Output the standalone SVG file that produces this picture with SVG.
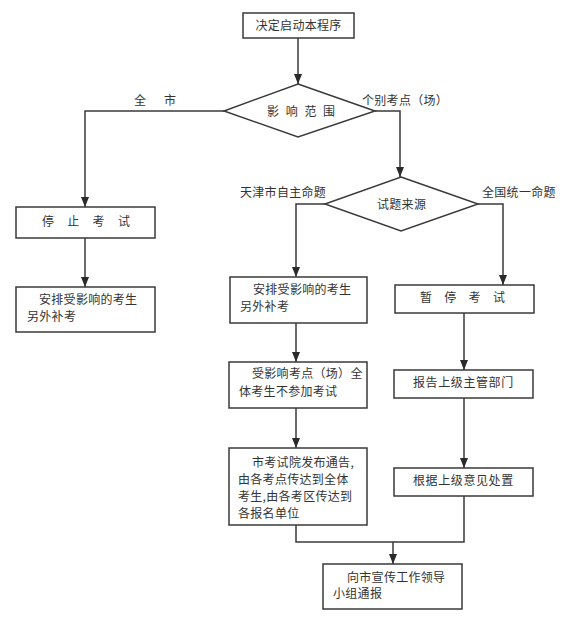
<svg xmlns="http://www.w3.org/2000/svg" width="574" height="625" viewBox="0 0 574 625">
<defs>
<marker id="arr" markerUnits="userSpaceOnUse" markerWidth="10" markerHeight="8" refX="10" refY="4" orient="auto"><path d="M0,0 L10,4 L0,8 z" fill="#2a2a2a"/></marker>
<style>
.b{fill:#fff;stroke:#3a3a3a;stroke-width:1.5}
.c{fill:none;stroke:#3a3a3a;stroke-width:1.5}
.a{marker-end:url(#arr)}
text{font-family:"Noto Sans CJK SC","Noto Sans CJK TC",sans-serif;font-size:12px;fill:#333;letter-spacing:0.3px}
</style>
</defs>
<rect width="574" height="625" fill="#fff"/>
<g id="connectors">
<path class="c a" d="M298,38 V84"/>
<path class="c a" d="M224,111 H85 V207"/>
<path class="c a" d="M375,111 H400 V177"/>
<path class="c a" d="M85,238 V287"/>
<path class="c a" d="M325,204 H296 V277"/>
<path class="c a" d="M478,204 H503 V285"/>
<path class="c a" d="M296,323 V362"/>
<path class="c a" d="M464,313 V370"/>
<path class="c a" d="M296,408 V448"/>
<path class="c a" d="M464,398 V468"/>
<path class="c" d="M296,525 V542 H464 V496"/>
<path class="c a" d="M393,542 V564"/>
</g>
<g id="labels">
<text x="134" y="105">全</text>
<text x="164" y="105">市</text>
<text x="362" y="105">个别考点（场）</text>
<text x="240" y="197">天津市自主命题</text>
<text x="482" y="197">全国统一命题</text>
</g>
<g id="start"><rect class="b" x="243" y="13" width="111" height="25"/><text x="255.5" y="30">决定启动本程序</text></g>
<g id="scope"><path class="b" d="M298,84 L375,111 L298,137 L224,111 z"/><text x="267" y="116" style="letter-spacing:6.7px">影响范围</text></g>
<g id="stop"><rect class="b" x="16" y="207" width="139" height="31"/><text x="42" y="226" style="letter-spacing:13.3px">停止考试</text></g>
<g id="makeup1"><rect class="b" x="16" y="287" width="139" height="45"/><text x="39" y="304">安排受影响的考生</text><text x="27" y="321">另外补考</text></g>
<g id="source"><path class="b" d="M401,177 L478,204 L401,231 L325,204 z"/><text x="377" y="209">试题来源</text></g>
<g id="makeup2"><rect class="b" x="230" y="277" width="137" height="46"/><text x="253" y="294">安排受影响的考生</text><text x="240" y="311">另外补考</text></g>
<g id="pause"><rect class="b" x="395" y="285" width="139" height="28"/><text x="420" y="302" style="letter-spacing:12.3px">暂停考试</text></g>
<g id="absent"><rect class="b" x="229" y="362" width="138" height="46"/><text x="252" y="378">受影响考点（场）全</text><text x="239" y="396">体考生不参加考试</text></g>
<g id="report"><rect class="b" x="394" y="370" width="139" height="28"/><text x="413" y="387" style="letter-spacing:0.6px">报告上级主管部门</text></g>
<g id="notice"><rect class="b" x="229" y="448" width="138" height="77"/><text x="252" y="467">市考试院发布通告,</text><text x="238" y="484">由各考点传达到全体</text><text x="238" y="501">考生,由各考区传达到</text><text x="238" y="518">各报名单位</text></g>
<g id="handle"><rect class="b" x="394" y="468" width="139" height="28"/><text x="413" y="485" style="letter-spacing:0.6px">根据上级意见处置</text></g>
<g id="inform"><rect class="b" x="323" y="564" width="139" height="45"/><text x="347" y="582">向市宣传工作领导</text><text x="333" y="598">小组通报</text></g>
</svg>
